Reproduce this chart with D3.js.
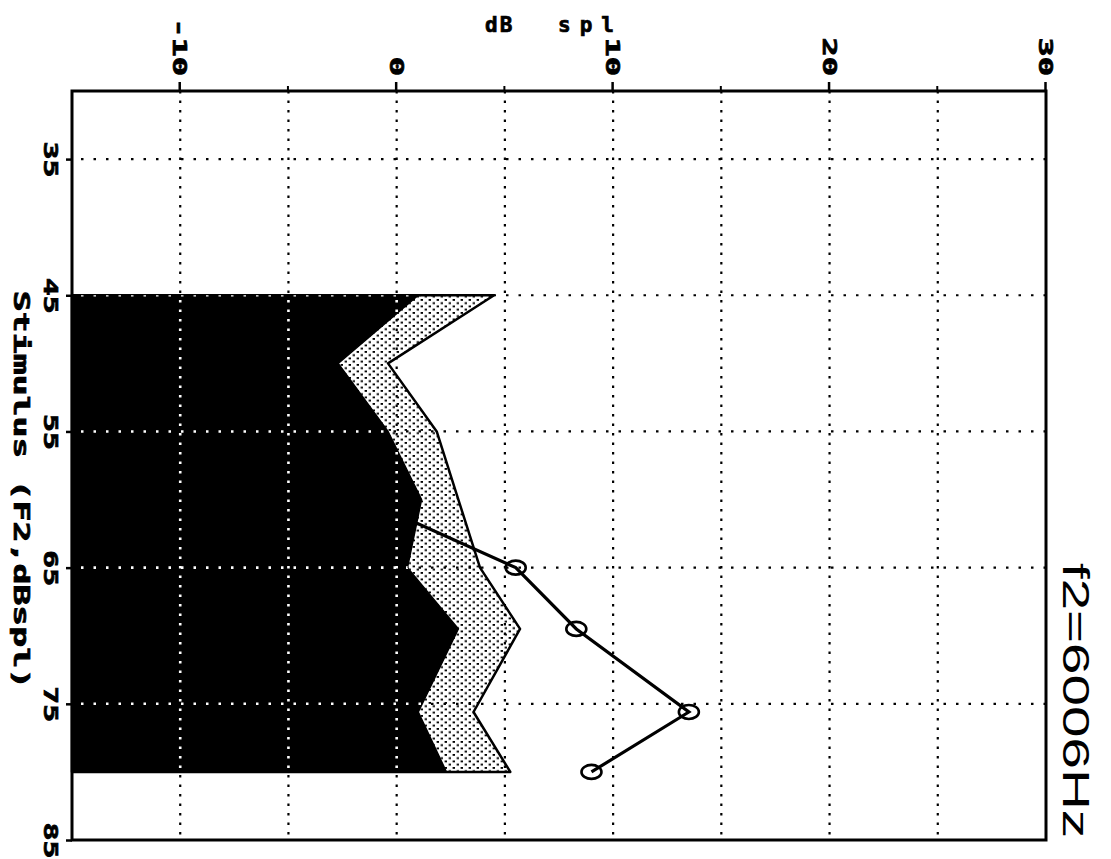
<!DOCTYPE html>
<html>
<head>
<meta charset="utf-8">
<script src="https://cdn.jsdelivr.net/npm/d3@7"></script>
<style>
  body { margin: 0; background: #fff; }
  svg { display: block; }
</style>
</head>
<body>
<svg id="chart" width="1111" height="859"></svg>
<script>
// stimulus level (F2, dB SPL)
const stimulus = [45, 50, 55, 60, 65, 69.5, 75.6, 80]
// DP amplitude, the low ones sit under the noise floor
const dpLevel = [-1.7, -4.5, -2.5, -1.5, 5.5, 8.3, 13.5, 9.0]
// noise floor (black) and upper edge of the noise band (stippled)
const noiseFloor = [1.0, -2.7, -0.4, 1.15, 0.5, 2.85, 1.0, 2.3]
const noiseUpper = [4.5, -0.4, 1.85, 2.85, 3.85, 5.7, 3.55, 5.25]

const stimTicks = [35, 45, 55, 65, 75, 85]
const stimGrid = [35, 45, 55, 65, 75]
const dbTicks = [-10, 0, 10, 20, 30]
const dbMinor = [-5, 5, 15, 25]
const dbGrid = [-10, -5, 0, 5, 10, 15, 20, 25]
const title = 'f2=6006Hz'

const mono = '"DejaVu Sans Mono", monospace'

var svg = d3.select('#chart')
var defs = svg.append('defs')

// chart is drawn upright and then turned a quarter turn clockwise
var g = svg.append('g').attr('transform', 'translate(1111,0) rotate(90)')

var x = d3.scaleLinear().domain([30, 85]).range([91, 840])
var y = d3.scaleLinear().domain([-15, 30]).range([1039, 65])

var rows = stimulus.map(function(s, i) {
  return { s: s, dp: dpLevel[i], lo: noiseFloor[i], hi: noiseUpper[i] }
})

// stipple pattern
var pat = defs.append('pattern')
  .attr('id', 'stip')
  .attr('patternUnits', 'userSpaceOnUse')
  .attr('width', 6.5)
  .attr('height', 8)
pat.append('rect').attr('width', 6.5).attr('height', 8).attr('fill', '#fff')
pat.append('rect').attr('x', 0).attr('y', 0).attr('width', 1.8).attr('height', 2.4).attr('fill', '#000')
pat.append('rect').attr('x', 3.25).attr('y', 4).attr('width', 1.8).attr('height', 2.4).attr('fill', '#000')

var floor = d3.area()
  .x(function(d) { return x(d.s) })
  .y0(y(-15))
  .y1(function(d) { return y(d.lo) })

// mask: only the black noise floor lets the light grid through
var mask = defs.append('mask')
  .attr('id', 'floorMask')
  .attr('maskUnits', 'userSpaceOnUse')
  .attr('x', 0).attr('y', 0).attr('width', 1200).attr('height', 1200)
mask.append('path')
  .attr('d', floor(rows))
  .attr('fill', '#fff')

// noise band
var band = d3.area()
  .x(function(d) { return x(d.s) })
  .y0(y(-15))
  .y1(function(d) { return y(d.hi) })

g.append('path')
  .datum(rows)
  .attr('d', band)
  .attr('fill', 'url(#stip)')
  .attr('stroke', '#000')
  .attr('stroke-width', 2.5)
  .attr('stroke-linejoin', 'round')

// dotted grid
function drawGrid(parent, colour, w) {
  parent.selectAll('.gx')
    .data(stimGrid)
    .enter().append('line')
      .attr('class', 'gx')
      .attr('x1', function(d) { return x(d) })
      .attr('x2', function(d) { return x(d) })
      .attr('y1', y(30))
      .attr('y2', y(-15))
      .attr('stroke', colour)
      .attr('stroke-width', w)
      .attr('stroke-dasharray', '2.5,10')

  parent.selectAll('.gy')
    .data(dbGrid)
    .enter().append('line')
      .attr('class', 'gy')
      .attr('x1', x(30))
      .attr('x2', x(85))
      .attr('y1', function(d) { return y(d) })
      .attr('y2', function(d) { return y(d) })
      .attr('stroke', colour)
      .attr('stroke-width', w)
      .attr('stroke-dasharray', '2.5,7')
}

drawGrid(g.append('g'), '#000', 2.2)

// DP line and markers
var dpLine = d3.line()
  .x(function(d) { return x(d.s) })
  .y(function(d) { return y(d.dp) })

g.append('path')
  .datum(rows)
  .attr('d', dpLine)
  .attr('fill', 'none')
  .attr('stroke', '#000')
  .attr('stroke-width', 3.2)

g.selectAll('.dot')
  .data(rows.filter(function(d) { return d.dp > d.lo }))
  .enter().append('ellipse')
    .attr('class', 'dot')
    .attr('cx', function(d) { return x(d.s) })
    .attr('cy', function(d) { return y(d.dp) })
    .attr('rx', 7)
    .attr('ry', 10)
    .attr('fill', 'none')
    .attr('stroke', '#000')
    .attr('stroke-width', 2.6)

// noise floor
g.append('path')
  .datum(rows)
  .attr('d', floor)
  .attr('fill', '#000')
  .attr('stroke', '#000')
  .attr('stroke-width', 1.5)

// grid shows through the black part in white
var lightGrid = g.append('g').attr('mask', 'url(#floorMask)')
drawGrid(lightGrid, '#fff', 2.6)

// frame
g.append('rect')
  .attr('x', x(30))
  .attr('y', y(30))
  .attr('width', x(85) - x(30))
  .attr('height', y(-15) - y(30))
  .attr('fill', 'none')
  .attr('stroke', '#000')
  .attr('stroke-width', 3)

function monoText(sel, size) {
  sel.style('font-family', mono)
    .style('font-weight', 'bold')
    .style('font-size', size + 'px')
    .attr('fill', '#000')
    .attr('stroke', '#000')
    .attr('stroke-width', 0.7)
}

// dB axis (top of the page)
var yAxis = g.append('g')
  .attr('transform', 'translate(' + x(30) + ',0)')
  .call(d3.axisLeft(y).tickValues(dbTicks).tickSize(9).tickFormat(function(d) { return String(d) }))
yAxis.select('.domain').remove()
yAxis.selectAll('line').attr('stroke-width', 2.5)
yAxis.selectAll('text')
  .attr('x', -15 / 1.6)
  .attr('transform', 'scale(1.6,1)')
  .call(monoText, 20)

var yMinor = g.append('g')
  .attr('transform', 'translate(' + x(30) + ',0)')
  .call(d3.axisLeft(y).tickValues(dbMinor).tickSize(5).tickFormat(''))
yMinor.select('.domain').remove()
yMinor.selectAll('line').attr('stroke-width', 2)

// stimulus axis (left of the page)
var xAxis = g.append('g')
  .attr('transform', 'translate(0,' + y(-15) + ')')
  .call(d3.axisBottom(x).tickValues(stimTicks).tickSize(6).tickFormat(function(d) { return String(d) }))
xAxis.select('.domain').remove()
xAxis.selectAll('line').attr('stroke-width', 2.5)
xAxis.selectAll('text')
  .attr('y', 14)
  .attr('transform', 'scale(1.5,1)')
  .call(monoText, 20)
// last label sits right on the page edge, keep it inside
xAxis.selectAll('.tick').filter(function(d) { return d === 85 }).select('text')
  .attr('text-anchor', 'end')
  .attr('x', 18 / 1.5)

// stimulus axis title
g.append('g')
  .attr('transform', 'translate(490,1097)')
  .append('text')
    .attr('transform', 'scale(1.7,1)')
    .attr('text-anchor', 'middle')
    .call(monoText, 20.5)
    .text('Stimulus (F2,dBspl)')

// chart title
g.append('g')
  .attr('transform', 'translate(838,48)')
  .append('text')
    .attr('transform', 'scale(1.5,1)')
    .attr('text-anchor', 'end')
    .style('font-family', '"Liberation Sans", Arial, sans-serif')
    .style('font-size', '37.7px')
    .text(title)

// dB axis title, upright on the page
var yTitle = svg.append('text')
  .attr('y', 32)
  .call(monoText, 21)
yTitle.append('tspan').attr('x', 485).attr('letter-spacing', 2).text('dB')
yTitle.append('tspan').attr('x', 558).attr('letter-spacing', 9).text('spl')
</script>
</body>
</html>
